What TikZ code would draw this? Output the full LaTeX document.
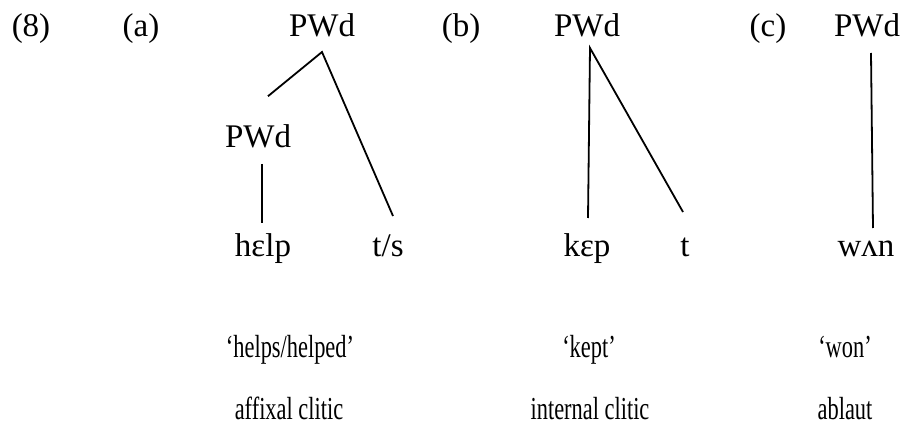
\documentclass[tikz,border=0pt]{standalone}
\usepackage{fontspec}
\setmainfont{Liberation Serif}
\usetikzlibrary{calc}

\tikzset{
    lab/.style={anchor=base, inner sep=0pt, font=\fontsize{33}{33}\selectfont},
    gloss/.style={anchor=base, inner sep=0pt, xscale=0.7, font=\fontsize{32}{32}\selectfont},
}

\begin{document}
\begin{tikzpicture}[x=1pt, y=-1pt, line width=1.8pt]
    \useasboundingbox(0,0)rectangle(914,425);

    % numbering
    \node[lab](ex)at(31,37){(8)};
    \node[lab](la)at(141,37){(a)};
    \node[lab](lb)at(461,37){(b)};
    \node[lab](lc)at(768,37){(c)};

    % (a) hElp + t/s
    \node[lab](pwdA)at(322,37){PWd};
    \node[lab](pwdAi)at(258,148){PWd};
    \node[lab](help)at(263,257){hɛlp};
    \node[lab](ts)at(388,257){t/s};

    \coordinate(A)at($(pwdA.base)+(0,15)$);
    \coordinate(A1)at($(pwdAi.north)+(10,-28)$);
    \coordinate(A2)at($(ts.base)+(5,-41)$);
    \coordinate(A3)at($(pwdAi.base)+(4,16)$);
    \coordinate(A4)at($(help.base)+(-1,-34)$);

    \draw(A1)--(A)--(A2);
    \draw(A3)--(A4);

    % (b) kEp + t
    \node[lab](pwdB)at(587,37){PWd};
    \node[lab](kep)at(587,257){kɛp};
    \node[lab](t)at(685,257){t};

    \coordinate(B)at($(pwdB.base)+(3,11)$);
    \coordinate(B1)at($(kep.base)+(1,-39)$);
    \coordinate(B2)at($(t.base)+(-2,-45)$);

    \draw(B1)--(B)--(B2);

    % (c) wVn
    \node[lab](pwdC)at(867,37){PWd};
    \node[lab](wan)at(866,257){wʌn};

    \coordinate(C)at($(pwdC.base)+(4,16)$);
    \coordinate(C1)at($(wan.base)+(7,-29)$);

    \draw(C)--(C1);

    % glosses
    \node[gloss](gA)at(290,357){‘helps/helped’};
    \node[gloss](tA)at(289,419){affixal clitic};
    \node[gloss](gB)at(589,357){‘kept’};
    \node[gloss](tB)at(590,419){internal clitic};
    \node[gloss](gC)at(845,357){‘won’};
    \node[gloss](tC)at(845,419){ablaut};
\end{tikzpicture}
\end{document}
